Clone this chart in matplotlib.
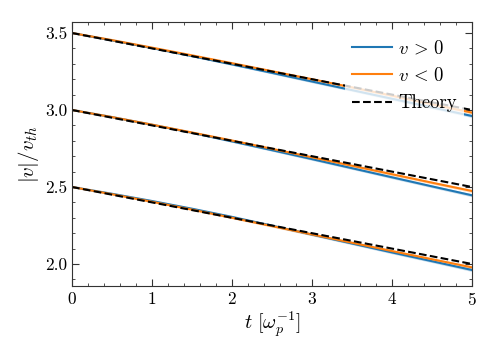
#!/usr/bin/env python3

import matplotlib
matplotlib.use("Agg")
import matplotlib.pyplot as plt
from matplotlib.ticker import MultipleLocator


# time axis [1/omega_p]
t = [0.0, 0.5, 1.0, 1.5, 2.0, 2.5, 3.0, 3.5, 4.0, 4.5, 5.0]

# theory curves, one per starting speed
theory_hi = [3.50, 3.45, 3.40, 3.35, 3.30, 3.25, 3.20, 3.15, 3.10, 3.05, 3.00]
theory_mid = [3.00, 2.95, 2.90, 2.85, 2.80, 2.75, 2.70, 2.65, 2.60, 2.55, 2.50]
theory_lo = [2.50, 2.45, 2.40, 2.35, 2.30, 2.25, 2.20, 2.15, 2.10, 2.05, 2.00]

# simulated |v| for v>0 (blue) and v<0 (orange)
pos_hi = [3.500, 3.452, 3.402, 3.350, 3.296, 3.241, 3.185, 3.129, 3.073, 3.017, 2.961]
neg_hi = [3.500, 3.454, 3.405, 3.355, 3.304, 3.252, 3.200, 3.147, 3.093, 3.038, 2.983]
pos_mid = [3.000, 2.954, 2.904, 2.852, 2.796, 2.739, 2.681, 2.622, 2.563, 2.504, 2.446]
neg_mid = [3.000, 2.954, 2.905, 2.854, 2.802, 2.748, 2.693, 2.638, 2.583, 2.528, 2.474]
pos_lo = [2.500, 2.456, 2.409, 2.359, 2.306, 2.249, 2.191, 2.133, 2.075, 2.018, 1.961]
neg_lo = [2.500, 2.453, 2.404, 2.353, 2.300, 2.246, 2.192, 2.138, 2.084, 2.031, 1.978]

# spread of the particle ensemble (half width of the shaded band)
spread = [0.000, 0.003, 0.004, 0.005, 0.006, 0.007, 0.008, 0.008, 0.009, 0.009, 0.010]

BLUE = "#1f77b4"
ORANGE = "#ff7f0e"


def style():
    plt.rcParams.update(
        {
            "font.family": "serif",
            "font.serif": ["cmr10", "DejaVu Serif"],
            "mathtext.fontset": "cm",
            "axes.formatter.use_mathtext": True,
            "font.size": 12.5,
            "xtick.direction": "in",
            "ytick.direction": "in",
            "xtick.top": True,
            "ytick.right": True,
            "xtick.major.size": 5,
            "ytick.major.size": 5,
            "xtick.minor.size": 2.5,
            "ytick.minor.size": 2.5,
            "axes.edgecolor": "#333333",
            "xtick.color": "#333333",
            "ytick.color": "#333333",
            "xtick.labelcolor": "black",
            "ytick.labelcolor": "black",
        }
    )


def band(ax, x, y, color):
    lo = [a - s for a, s in zip(y, spread)]
    hi = [a + s for a, s in zip(y, spread)]
    ax.fill_between(x, lo, hi, color=color, alpha=0.25, linewidth=0)


def main():
    style()
    fig = plt.figure(figsize=(4.98, 3.56), dpi=100)
    ax = fig.add_axes([0.1446, 0.1966, 0.8032, 0.7414])

    groups = [(pos_hi, neg_hi, theory_hi), (pos_mid, neg_mid, theory_mid), (pos_lo, neg_lo, theory_lo)]
    for i, (pos, neg, th) in enumerate(groups):
        band(ax, t, pos, BLUE)
        band(ax, t, neg, ORANGE)
        ax.plot(t, pos, color=BLUE, lw=1.5, label=r"$v\,>\,0$" if i == 0 else None)
        ax.plot(t, neg, color=ORANGE, lw=1.5, label=r"$v\,<\,0$" if i == 0 else None)
        ax.plot(t, th, color="black", lw=1.5, ls="--", label="Theory" if i == 0 else None)

    ax.set_xlim(0, 5)
    ax.set_ylim(1.857, 3.571)
    ax.xaxis.set_major_locator(MultipleLocator(1))
    ax.xaxis.set_minor_locator(MultipleLocator(0.2))
    ax.yaxis.set_major_locator(MultipleLocator(0.5))
    ax.yaxis.set_minor_locator(MultipleLocator(0.1))
    ax.yaxis.set_major_formatter(plt.FuncFormatter(lambda v, p: f"{v:.1f}"))

    ax.set_xlabel(r"$t\ [\omega_p^{-1}]$", fontsize=14.5, labelpad=1)
    ax.set_ylabel(r"$|v|/v_{th}$", fontsize=15, labelpad=3)

    leg = ax.legend(loc="upper right", bbox_to_anchor=(0.981, 0.962), borderaxespad=0,
                    fontsize=13.5, frameon=True, framealpha=0.8, borderpad=0.4,
                    handlelength=2.1, handletextpad=0.35, labelspacing=0.5)
    leg.get_frame().set_edgecolor("none")
    leg.get_frame().set_boxstyle("square", pad=0.0)

    fig.savefig("out.png", dpi=100)
    plt.close(fig)


if __name__ == "__main__":
    main()
